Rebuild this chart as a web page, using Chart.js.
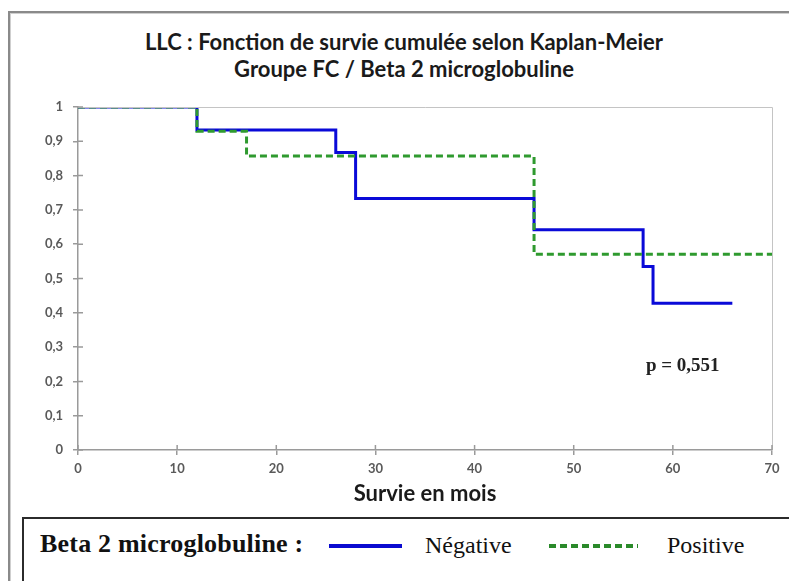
<!DOCTYPE html>
<html>
<head>
<meta charset="utf-8">
<script src="https://cdn.jsdelivr.net/npm/chart.js@4.4.1/dist/chart.umd.min.js"></script>
<style>
  html, body { margin: 0; padding: 0; background: #fff; width: 789px; height: 581px; overflow: hidden; position: relative; }
  #frame { position: absolute; left: 8px; top: 11px; width: 820px; height: 620px;
           border-left: 2px solid #8a8a8a; border-top: 2px solid #8a8a8a;
           box-shadow: inset 1px 1px 0 #cfcfcf; }
  #title { position: absolute; left: 0; top: 28px; width: 808px; text-align: center;
           font: bold 22px Lato, sans-serif; line-height: 27px; color: #1a1a1a; }
  #wrap { position: absolute; left: 0; top: 0; width: 789px; height: 515px; }
  #legend { position: absolute; left: 22px; top: 517px; width: 780px; height: 90px;
            border: 2px solid #2b2b2b; background: #fff; }
  .lg { position: absolute; height: 30px; line-height: 30px; white-space: nowrap;
        font-family: "Liberation Serif", "DejaVu Serif", serif; font-size: 24px; color: #111; top: 11px; }
  .lg.b { font-weight: bold; font-size: 26px; top: 10px; letter-spacing: 0.2px; }
  .sw { position: absolute; top: 25px; height: 4px; }
</style>
</head>
<body>
<div id="frame"></div>
<div id="title">LLC : Fonction de survie cumulée selon Kaplan-Meier<br>Groupe FC / Beta 2 microglobuline</div>
<div id="wrap"><canvas id="km"></canvas></div>
<div id="legend">
  <span class="lg b" style="left:16px;">Beta 2 microglobuline :</span>
  <span class="sw" style="left:305px;width:73px;background:#0a0ad0;"></span>
  <span class="lg" style="left:401px;">Négative</span>
  <span class="sw" style="left:525px;width:89px;background:repeating-linear-gradient(90deg,#2a8a2a 0 7px,transparent 7px 11px);"></span>
  <span class="lg" style="left:643px;">Positive</span>
</div>
<script>
// Kaplan-Meier survival estimates, Beta 2 microglobuline groups
const negMonths   = [0, 12, 26, 28, 46, 57, 58, 66];
const negSurvival = [1, 0.933, 0.867, 0.733, 0.642, 0.535, 0.428, 0.428];
const posMonths   = [0, 12, 17, 46, 70];
const posSurvival = [1, 0.929, 0.857, 0.571, 0.571];

const xTickValues = [0, 10, 20, 30, 40, 50, 60, 70];
const yTickValues = [0, 0.1, 0.2, 0.3, 0.4, 0.5, 0.6, 0.7, 0.8, 0.9, 1];

const pValueText = 'p = 0,551';
const pValueAt = { x: 61, y: 0.245 };

const toPoints = (xs, ys) => xs.map((x, i) => ({ x, y: ys[i] }));
const frLabel = v => (Math.round(v * 10) / 10).toString().replace('.', ',');

// Cross tick marks on both axes, a thin frame on the top/right of the plot, and the p-value note
const decorations = {
  id: 'decorations',
  afterDraw(chart) {
    const { ctx, chartArea: a, scales: { x, y } } = chart;
    ctx.save();
    ctx.strokeStyle = '#c4c4c4';
    ctx.lineWidth = 1;
    ctx.beginPath();
    ctx.moveTo(a.left, a.top + 0.5); ctx.lineTo(a.right + 0.5, a.top + 0.5);
    ctx.lineTo(a.right + 0.5, a.bottom);
    ctx.stroke();
    ctx.strokeStyle = '#9a9a9a';
    ctx.lineWidth = 1.5;
    ctx.beginPath();
    xTickValues.forEach(v => { const px = x.getPixelForValue(v); ctx.moveTo(px, a.bottom); ctx.lineTo(px, a.bottom - 5); });
    yTickValues.forEach(v => { const py = y.getPixelForValue(v); ctx.moveTo(a.left, py); ctx.lineTo(a.left + 5, py); });
    ctx.stroke();
    ctx.fillStyle = '#222';
    ctx.font = 'bold 19px "Liberation Serif", serif';
    ctx.textAlign = 'center';
    ctx.textBaseline = 'middle';
    ctx.fillText(pValueText, x.getPixelForValue(pValueAt.x), y.getPixelForValue(pValueAt.y));
    ctx.restore();
  }
};

new Chart(document.getElementById('km'), {
  type: 'line',
  data: {
    datasets: [
      { label: 'Négative', data: toPoints(negMonths, negSurvival), stepped: 'before',
        borderColor: '#0a0ad8', borderWidth: 3, pointRadius: 0, fill: false, order: 1 },
      { label: 'Positive', data: toPoints(posMonths, posSurvival), stepped: 'before',
        borderColor: '#2f9a2f', borderWidth: 3, borderDash: [7, 4], pointRadius: 0, fill: false, order: 0 }
    ]
  },
  options: {
    responsive: true,
    maintainAspectRatio: false,
    animation: false,
    events: [],
    layout: { padding: { top: 107, right: 17, bottom: 0, left: 0 } },
    plugins: { legend: { display: false }, title: { display: false }, tooltip: { enabled: false } },
    scales: {
      x: {
        type: 'linear', min: 0, max: 70,
        afterBuildTicks: s => { s.ticks = xTickValues.map(v => ({ value: v })); },
        afterFit: s => { s.height = 65; },
        border: { color: '#9a9a9a', width: 1.5 },
        grid: { drawOnChartArea: false, drawTicks: true, tickLength: 5, color: '#9a9a9a', lineWidth: 1.5 },
        ticks: { padding: 6, color: '#5a5a5a', font: { family: 'Lato', size: 13, weight: 'bold' } },
        title: { display: true, text: 'Survie en mois', color: '#1a1a1a',
                 font: { family: 'Lato', size: 22, weight: 'bold' }, padding: { top: 0, bottom: 8 } }
      },
      y: {
        type: 'linear', min: 0, max: 1,
        afterBuildTicks: s => { s.ticks = yTickValues.map(v => ({ value: v })); },
        afterFit: s => { s.width = 78; },
        border: { color: '#9a9a9a', width: 1.5 },
        grid: { drawOnChartArea: false, drawTicks: true, tickLength: 5, color: '#9a9a9a', lineWidth: 1.5 },
        ticks: { padding: 10, color: '#5a5a5a', font: { family: 'Lato', size: 13, weight: 'bold' },
                 callback: v => frLabel(v) }
      }
    }
  },
  plugins: [decorations]
});
</script>
</body>
</html>
